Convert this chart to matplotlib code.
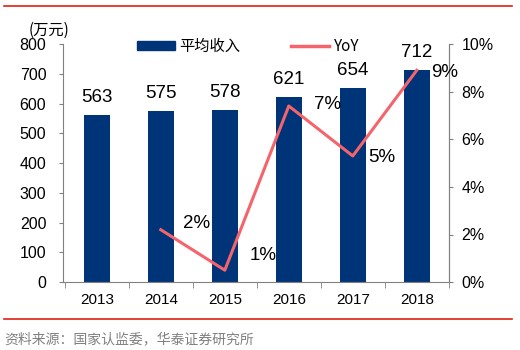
import matplotlib.pyplot as plt
from matplotlib.lines import Line2D

plt.rcParams['font.family'] = ['Liberation Sans', 'Noto Sans CJK SC', 'DejaVu Sans']

# data
years = ['2013', '2014', '2015', '2016', '2017', '2018']
income = [563, 575, 578, 621, 654, 712]
yoy = [None, 2.2, 0.5, 7.4, 5.3, 8.9]
yoy_labels = ['', '2%', '1%', '7%', '5%', '9%']

bar_color = '#003478'
line_color = '#F4646A'
spine_color = '#808080'
cjk = ['Noto Sans CJK SC', 'DejaVu Sans']

fig = plt.figure(figsize=(5.2, 3.5), dpi=100)
ax = fig.add_axes([0.121, 0.194, 0.742, 0.68])
x = list(range(len(years)))

ax.bar(x, income, width=0.4, color=bar_color, zorder=2)
for xi, v in zip(x, income):
    ax.text(xi, v + 30, str(v), ha='center', va='bottom', fontsize=13.5)

ax.set_xlim(-0.53, 5.5)
ax.set_ylim(0, 800)
ax.set_yticks(range(0, 801, 100))
ax.set_xticks(x)
ax.set_xticklabels(years, fontsize=11)
ax.set_xticks([i + 0.5 for i in range(-1, 6)], minor=True)
ax.tick_params(axis='x', which='major', length=0, pad=8)
ax.tick_params(axis='x', which='minor', length=4, color=spine_color)
ax.tick_params(axis='y', labelsize=11.5, length=3, pad=9, color=spine_color)
ax.spines['top'].set_visible(False)
for s in ['left', 'bottom', 'right']:
    ax.spines[s].set_color(spine_color)

ax2 = ax.twinx()
ax2.set_ylim(0, 10)
ax2.set_yticks(range(0, 11, 2))
ax2.set_yticklabels([f'{t}%' for t in range(0, 11, 2)], fontsize=11.5)
ax2.tick_params(axis='y', length=3, pad=6, color=spine_color)
ax2.spines['top'].set_visible(False)
ax2.spines['right'].set_color(spine_color)
ax2.spines['left'].set_visible(False)
ax2.spines['bottom'].set_visible(False)

lx = [xi for xi, v in zip(x, yoy) if v is not None]
ly = [v for v in yoy if v is not None]
ax2.plot(lx, ly, color=line_color, lw=2.2, zorder=3)

# yoy label offsets (in data units)
offsets = [None, (0.56, 0.25), (0.6, 0.6), (0.6, 0.05), (0.45, -0.05), (0.44, -0.1)]
for xi, v, lab, off in zip(x, yoy, yoy_labels, offsets):
    if v is None:
        continue
    ax2.text(xi + off[0], v + off[1], lab, ha='center', va='center', fontsize=13.5)

# legend
handles = [plt.Rectangle((0, 0), 1, 1, color=bar_color),
           Line2D([0], [0], color=line_color, lw=2.5)]
fig.legend(handles, ['平均收入', 'YoY'], loc='center left', bbox_to_anchor=(0.263, 0.868),
           ncol=2, frameon=False, handlelength=2.5, handleheight=0.5, handletextpad=0.3,
           columnspacing=3.3, borderpad=0, borderaxespad=0,
           prop={'family': ['Noto Sans CJK SC', 'Liberation Sans'], 'size': 11})

fig.text(0.055, 0.9, '(万元)', fontsize=11, family=cjk)

# red rules and source line
fig.add_artist(Line2D([0.008, 0.985], [0.983, 0.983], color='#E02010', lw=1.2))
fig.add_artist(Line2D([0.008, 0.985], [0.089, 0.089], color='#E02010', lw=1.2))
fig.text(0.008, 0.02, '资料来源：国家认监委，华泰证券研究所', fontsize=10, color='#808080',
         family=cjk)

fig.savefig('out.png', dpi=100)
